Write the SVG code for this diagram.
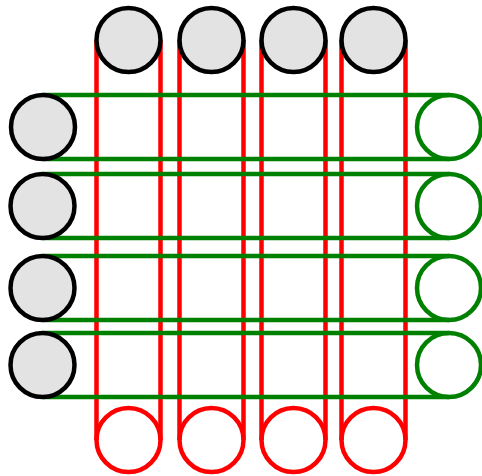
<svg xmlns="http://www.w3.org/2000/svg" width="482" height="476" viewBox="0 0 482 476">
<style>
.bg{fill:#ffffff}
.red{stroke:#ff0000;stroke-width:4.5;fill:none}
.green{stroke:#008000;stroke-width:4.5;fill:none}
.grey{fill:#e3e3e3;stroke:#000000;stroke-width:4.5}
.redc{fill:#ffffff;stroke:#ff0000;stroke-width:4.5}
.greenc{fill:#ffffff;stroke:#008000;stroke-width:4.5}
</style>
<rect class="bg" x="0" y="0" width="482" height="476"/>
<g id="bottom-pulleys">
<g id="b1"><circle class="redc" cx="128.5" cy="440" r="32"/></g>
<g id="b2"><circle class="redc" cx="211.5" cy="440" r="32"/></g>
<g id="b3"><circle class="redc" cx="293.5" cy="440" r="32"/></g>
<g id="b4"><circle class="redc" cx="373.5" cy="440" r="32"/></g>
</g>
<g id="right-pulleys">
<g id="r1"><circle class="greenc" cx="449" cy="127" r="32"/></g>
<g id="r2"><circle class="greenc" cx="449" cy="206" r="32"/></g>
<g id="r3"><circle class="greenc" cx="449" cy="288" r="32"/></g>
<g id="r4"><circle class="greenc" cx="449" cy="365" r="32"/></g>
</g>
<g id="connectors">
<path class="red" d="M96.5,40V440M160.5,40V440M179.5,40V440M243.5,40V440M261.5,40V440M325.5,40V440M341.5,40V440M405.5,40V440"/>
<path class="green" d="M43,95H449M43,159H449M43,174H449M43,238H449M43,256H449M43,320H449M43,333H449M43,397H449"/>
</g>
<g id="top-pulleys">
<g id="t1"><circle class="grey" cx="128.5" cy="40" r="32"/></g>
<g id="t2"><circle class="grey" cx="211.5" cy="40" r="32"/></g>
<g id="t3"><circle class="grey" cx="293.5" cy="40" r="32"/></g>
<g id="t4"><circle class="grey" cx="373.5" cy="40" r="32"/></g>
</g>
<g id="left-pulleys">
<g id="l1"><circle class="grey" cx="43" cy="127" r="32"/></g>
<g id="l2"><circle class="grey" cx="42.5" cy="206" r="32"/></g>
<g id="l3"><circle class="grey" cx="42.5" cy="288" r="32"/></g>
<g id="l4"><circle class="grey" cx="42.5" cy="365" r="32"/></g>
</g>
</svg>
